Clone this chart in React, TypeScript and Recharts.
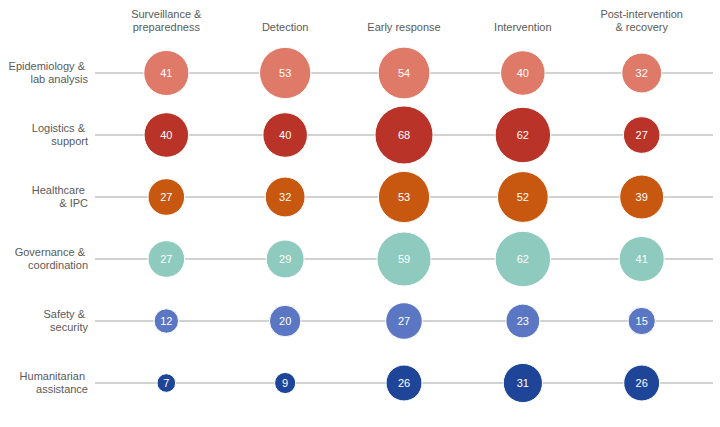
import React from 'react';
import { ScatterChart, Scatter, XAxis, YAxis, ZAxis, ReferenceLine } from 'recharts';

const phases = [
  ['Surveillance &', 'preparedness'],
  ['Detection'],
  ['Early response'],
  ['Intervention'],
  ['Post-intervention', '& recovery'],
];
const areas = [
  ['Epidemiology &', 'lab analysis'],
  ['Logistics &', 'support'],
  ['Healthcare', '& IPC'],
  ['Governance &', 'coordination'],
  ['Safety &', 'security'],
  ['Humanitarian', 'assistance'],
];
const colors = ['#E07A68', '#B93328', '#C8580F', '#8ECABD', '#5B77C4', '#1F4599'];

const epidemiology = [41, 53, 54, 40, 32];
const logistics = [40, 40, 68, 62, 27];
const healthcare = [27, 32, 53, 52, 39];
const governance = [27, 29, 59, 62, 41];
const safety = [12, 20, 27, 23, 15];
const humanitarian = [7, 9, 26, 31, 26];

const rowsValues = [epidemiology, logistics, healthcare, governance, safety, humanitarian];

const FONT = '"Liberation Sans", Arial, sans-serif';
const TEXT = '#5a5a5a';

const Bubble = (props: any) => {
  const { cx, cy, size, fill, payload } = props;
  const r = Math.sqrt(size / Math.PI);
  return (
    <g>
      <circle cx={cx} cy={cy} r={r} fill={fill} stroke="#ffffff" strokeWidth={1} />
      <text x={cx} y={cy} dy="0.36em" textAnchor="middle" fill="#ffffff" fontSize={11} fontFamily={FONT}>
        {payload.v}
      </text>
    </g>
  );
};

const XTick = (props: any) => {
  const { x, payload } = props;
  const lines = phases[payload.value] || [];
  const ys = lines.length === 2 ? [18, 31] : [31];
  return (
    <g>
      {lines.map((l, i) => (
        <text key={i} x={x} y={ys[i]} textAnchor="middle" fill={TEXT} fontSize={11} fontFamily={FONT}>
          {l}
        </text>
      ))}
    </g>
  );
};

const YTick = (props: any) => {
  const { y, payload } = props;
  const lines = areas[payload.value] || [];
  return (
    <g>
      <text x={85} y={y - 6.5} dy="0.36em" textAnchor="end" fill={TEXT} fontSize={11} fontFamily={FONT}>
        {lines[0]}
      </text>
      <text x={88} y={y + 6.5} dy="0.36em" textAnchor="end" fill={TEXT} fontSize={11} fontFamily={FONT}>
        {lines[1]}
      </text>
    </g>
  );
};

export default function App() {
  return (
    <div style={{ position: 'absolute', left: 0, top: 0, background: '#fff' }}>
      <ScatterChart width={720} height={427} margin={{ top: 0, right: 7, bottom: 13, left: 0 }}>
        <XAxis
          type="number"
          dataKey="x"
          orientation="top"
          domain={[-0.6, 4.6]}
          ticks={[0, 1, 2, 3, 4]}
          axisLine={false}
          tickLine={false}
          height={42}
          tick={<XTick />}
          interval={0}
        />
        <YAxis
          type="number"
          dataKey="y"
          reversed
          domain={[-0.5, 5.5]}
          ticks={[0, 1, 2, 3, 4, 5]}
          axisLine={false}
          tickLine={false}
          width={95}
          tick={<YTick />}
          interval={0}
        />
        <ZAxis type="number" dataKey="v" domain={[0, 68]} range={[0, 2650]} />
        {areas.map((_, i) => (
          <ReferenceLine key={i} y={i} stroke="#d2d2d2" strokeWidth={2} />
        ))}
        {rowsValues.map((vals, i) => (
          <Scatter
            key={i}
            data={vals.map((v, j) => ({ x: j, y: i, v }))}
            fill={colors[i]}
            shape={<Bubble />}
            isAnimationActive={false}
          />
        ))}
      </ScatterChart>
    </div>
  );
}
